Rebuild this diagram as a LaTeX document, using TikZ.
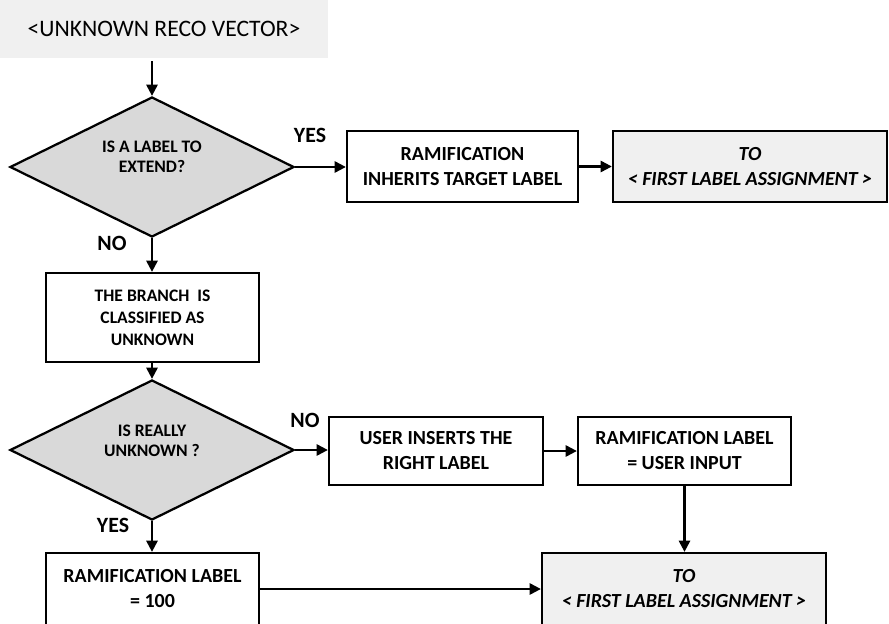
\documentclass[tikz,border=0pt]{standalone}
\usepackage{fontspec}
\setmainfont{Carlito}
\usepackage{tikz}
\usetikzlibrary{shapes.geometric, arrows.meta, positioning}
\tikzset{
>={Triangle[length=8pt,width=8pt]}, % solid arrow heads
flow/.style={->, line width=1.6pt}, % the connectors
stepbox/.style={draw, line width=1.6pt, fill=white, align=center, inner sep=0pt,
  font=\bfseries\fontsize{14.2}{17.8}\selectfont}, % plain process boxes
gotobox/.style={stepbox, fill=gray!12,
  font=\bfseries\itshape\fontsize{14.2}{17.8}\selectfont}, % jump to another chart
decision/.style={diamond, draw, line width=1.6pt, fill=gray!30, inner sep=0pt,
  minimum width=7.1cm, minimum height=3.5cm}, % the questions
asktext/.style={align=center, font=\bfseries\fontsize{12.5}{14.2}\selectfont}, % text in a question
answer/.style={font=\bfseries\fontsize{15.5}{18}\selectfont}, % YES / NO
}

\begin{document}
\begin{tikzpicture}[x=0.025cm, y=-0.025cm]
\clip (0,0) rectangle (889,624);
% start of the chart
\node[fill=gray!12, minimum width=8.2cm, minimum height=1.45cm,
  font=\fontsize{16.8}{20}\selectfont] (start) at (164,29) {<UNKNOWN RECO VECTOR>};

% first question
\node[decision] (ask1) at (152,167) {};
\node[asktext] (ask1t) at (152,157) {IS A LABEL TO\\EXTEND?};
\node[stepbox, minimum width=5.775cm, minimum height=1.775cm] (inherit) at (462.5,166.5)
  {RAMIFICATION\\INHERITS TARGET LABEL};
\node[gotobox, minimum width=6.85cm, minimum height=1.775cm] (first1) at (750,166.5)
  {TO\\< FIRST LABEL ASSIGNMENT >};
\node[stepbox, minimum width=5.325cm, minimum height=2.225cm,
  font=\bfseries\fontsize{12.5}{15.6}\selectfont] (unknown) at (152.5,317.5)
  {THE BRANCH\ \ IS\\CLASSIFIED AS\\UNKNOWN};

% second question
\node[decision] (ask2) at (152,450) {};
\node[asktext] (ask2t) at (152,441) {IS REALLY\\UNKNOWN ?};
\node[stepbox, minimum width=5.35cm, minimum height=1.7cm] (insert) at (436,451)
  {USER INSERTS THE\\RIGHT LABEL};
\node[stepbox, minimum width=5.325cm, minimum height=1.7cm] (userlab) at (684.5,451)
  {RAMIFICATION LABEL\\= USER INPUT};
\node[stepbox, minimum width=5.325cm, minimum height=1.8cm] (label100) at (152.5,589)
  {RAMIFICATION LABEL\\= 100};
\node[gotobox, minimum width=7.1cm, minimum height=1.8cm] (first2) at (684,589)
  {TO\\< FIRST LABEL ASSIGNMENT >};

% answers
\node[answer] (yes1) at (310,135) {YES};
\node[answer] (no1) at (112,243) {NO};
\node[answer] (no2) at (305,420) {NO};
\node[answer] (yes2) at (113,525) {YES};

\draw[flow] ([yshift=-2pt]start.south -| ask1.north) -- (ask1.north);
\draw[flow] (ask1.east) -- (inherit.west |- ask1.east);
\draw[flow] (inherit) -- (first1);
\draw[flow] (ask1.south) -- (unknown.north -| ask1.south);
\draw[flow] (unknown.south -| ask2.north) -- (ask2.north);
\draw[flow] (ask2.east) -- (insert.west |- ask2.east);
\draw[flow] (insert) -- (userlab);
\draw[flow] (userlab.south) -- (first2.north -| userlab.south);
\draw[flow] (ask2.south) -- (label100.north -| ask2.south);
\draw[flow] (label100) -- (first2);
\end{tikzpicture}
\end{document}
